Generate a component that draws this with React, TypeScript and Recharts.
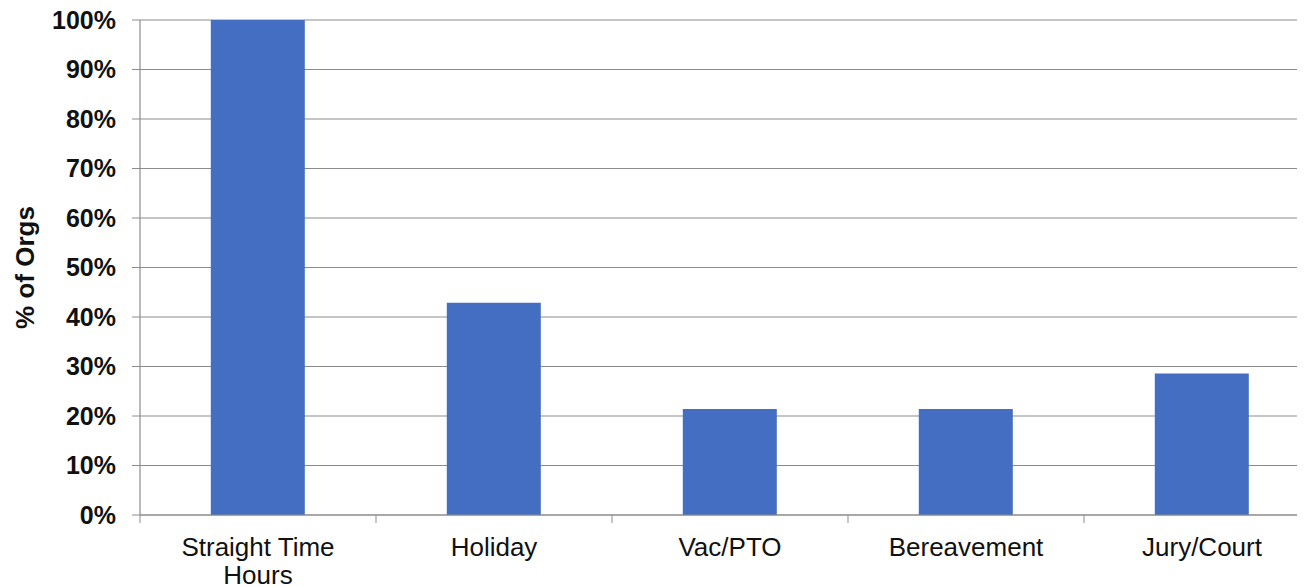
import React from 'react';
import { BarChart, Bar, XAxis, YAxis, CartesianGrid } from 'recharts';

const categories = ['Straight Time Hours', 'Holiday', 'Vac/PTO', 'Bereavement', 'Jury/Court'];
const pctOfOrgs = [100, 42.9, 21.4, 21.4, 28.6];
const yTicks = [0, 10, 20, 30, 40, 50, 60, 70, 80, 90, 100];

const data = categories.map((name, i) => ({ name, value: pctOfOrgs[i] }));

const CHART_W = 1330;
const CHART_H = 579;
const MARGIN = { top: 12, right: 18, left: 0, bottom: 0 };
const Y_AXIS_W = 132;
const BAND = (CHART_W - MARGIN.left - MARGIN.right - Y_AXIS_W) / categories.length;
const FONT = "'Liberation Sans', Arial, sans-serif";

// the first category wraps onto two lines in the original
const splitLabel = (s: string) => (s === 'Straight Time Hours' ? ['Straight Time', 'Hours'] : [s]);

const CategoryTick = (props: any) => {
  const { x, y, payload, index } = props;
  const lines = splitLabel(payload.value);
  return (
    <g>
      <line x1={x - BAND / 2} x2={x - BAND / 2} y1={y} y2={y + 8} stroke="#8c8c8c" />
      {index === categories.length - 1 && (
        <line x1={x + BAND / 2} x2={x + BAND / 2} y1={y} y2={y + 8} stroke="#8c8c8c" />
      )}
      <text x={x} y={y + 41} textAnchor="middle" fontSize={26} fill="#111" fontFamily={FONT}>
        {lines.map((l, i) => (
          <tspan key={i} x={x} dy={i === 0 ? 0 : 28}>{l}</tspan>
        ))}
      </text>
    </g>
  );
};

export default function App() {
  return (
    <div style={{ width: 1297, height: CHART_H, overflow: 'hidden', background: '#fff' }}>
      <BarChart width={CHART_W} height={CHART_H} data={data} margin={MARGIN} barCategoryGap="30%">
        <CartesianGrid vertical={false} stroke="#8c8c8c" strokeWidth={1.2} />
        <XAxis
          dataKey="name"
          height={72}
          interval={0}
          tickSize={0}
          tickMargin={0}
          tick={<CategoryTick />}
          axisLine={{ stroke: '#8c8c8c', strokeWidth: 1.2 }}
        />
        <YAxis
          width={Y_AXIS_W}
          domain={[0, 100]}
          ticks={yTicks}
          interval={0}
          tickFormatter={(v: number) => `${v}%`}
          tickSize={8}
          tickMargin={16}
          tickLine={{ stroke: '#8c8c8c' }}
          axisLine={{ stroke: '#8c8c8c', strokeWidth: 1.2 }}
          tick={{ fontSize: 25, fontWeight: 700, fill: '#111', fontFamily: FONT }}
          label={{
            value: '% of Orgs',
            angle: -90,
            position: 'center',
            dx: -49,
            style: { fontSize: 26, fontWeight: 700, fill: '#111', fontFamily: FONT },
          }}
        />
        <Bar dataKey="value" fill="#436ec2" isAnimationActive={false} />
      </BarChart>
    </div>
  );
}
